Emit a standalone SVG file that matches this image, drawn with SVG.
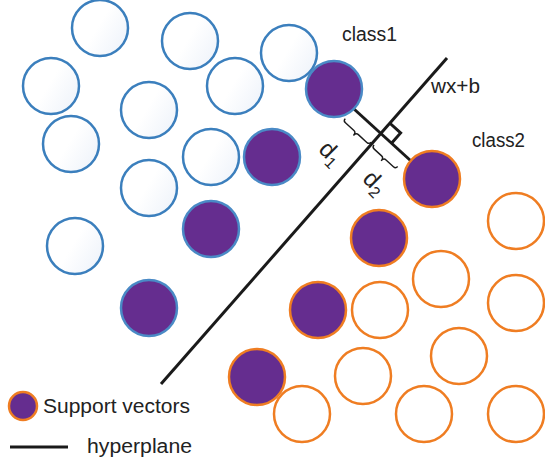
<svg xmlns="http://www.w3.org/2000/svg" width="545" height="466" viewBox="0 0 545 466">
<style>
.b{fill:url(#bg);stroke:#3b7fbd;stroke-width:2.5}
.o{fill:#ffffff;stroke:#ef7d22;stroke-width:2.5}
.pb{fill:#652d8f;stroke:#4a8ac6;stroke-width:2.5}
.po{fill:#652d8f;stroke:#ef7d22;stroke-width:2.5}
.ln{stroke:#1a1a1a;stroke-width:3;fill:none;stroke-linecap:butt}
.br{stroke:#1a1a1a;stroke-width:1.4;fill:none}
.t{font-family:"Liberation Sans",Arial,sans-serif;font-size:20px;fill:#222222}
</style>
<defs>
<linearGradient id="bg" x1="0" y1="0" x2="1" y2="0.6">
<stop offset="0" stop-color="#ffffff"/>
<stop offset="0.55" stop-color="#ffffff"/>
<stop offset="1" stop-color="#f1f5fb"/>
</linearGradient>
</defs>
<g id="connectors">
<line id="hyperplane" class="ln" x1="161" y1="384" x2="447" y2="58"/>
<line id="margin" class="ln" x1="354" y1="109" x2="411" y2="161"/>
<polyline id="right-angle" class="ln" stroke-width="2.5" points="390.2,123.5 400.6,132.9 391.3,143.4"/>
<g transform="translate(354,109) rotate(42.4)">
<path class="br" d="M0,13 Q0,16 3,16 L14.5,16 Q17.5,16 17.5,20 Q17.5,16 20.5,16 L32,16 Q35,16 35,13"/>
<path class="br" d="M39,13 Q39,16 42,16 L52,16 Q55,16 55,20 Q55,16 58,16 L68,16 Q71,16 71,13"/>
</g>
</g>
<g id="class1">
<circle class="b" cx="100" cy="28" r="28"/>
<circle class="b" cx="190" cy="41" r="28"/>
<circle class="b" cx="289" cy="53" r="28"/>
<circle class="b" cx="51" cy="86" r="28"/>
<circle class="b" cx="235" cy="86" r="28"/>
<circle class="b" cx="149" cy="110" r="28"/>
<circle class="b" cx="71" cy="144" r="28"/>
<circle class="b" cx="211" cy="157" r="28"/>
<circle class="b" cx="149" cy="188" r="28"/>
<circle class="b" cx="75" cy="246" r="28"/>
<circle class="pb" cx="334" cy="89" r="28"/>
<circle class="pb" cx="272" cy="157" r="28"/>
<circle class="pb" cx="211" cy="229" r="28"/>
<circle class="pb" cx="149" cy="308" r="28"/>
</g>
<g id="class2">
<circle class="po" cx="432" cy="179" r="28"/>
<circle class="po" cx="379" cy="238" r="28"/>
<circle class="po" cx="318" cy="310" r="28"/>
<circle class="po" cx="257" cy="377" r="28"/>
<circle class="o" cx="516" cy="221" r="28"/>
<circle class="o" cx="441" cy="279" r="28"/>
<circle class="o" cx="380" cy="310" r="28"/>
<circle class="o" cx="516" cy="303" r="28"/>
<circle class="o" cx="459" cy="356" r="28"/>
<circle class="o" cx="363" cy="376" r="28"/>
<circle class="o" cx="302" cy="414" r="28"/>
<circle class="o" cx="424" cy="414" r="28"/>
<circle class="o" cx="516" cy="414" r="28"/>
</g>
<g id="labels">
<text class="t" x="342" y="41" textLength="55" lengthAdjust="spacingAndGlyphs">class1</text>
<text class="t" x="431" y="93" textLength="49" lengthAdjust="spacingAndGlyphs">wx+b</text>
<text class="t" x="472" y="147" textLength="53" lengthAdjust="spacingAndGlyphs">class2</text>
<text class="t" style="font-size:24px" transform="translate(317.5,150.5) rotate(45)">d<tspan style="font-size:16px" dy="5">1</tspan></text>
<text class="t" style="font-size:24px" transform="translate(361.5,180) rotate(45)">d<tspan style="font-size:16px" dy="5">2</tspan></text>
</g>
<g id="legend">
<circle class="po" cx="23" cy="406" r="14"/>
<text class="t" x="43" y="413" textLength="147" lengthAdjust="spacingAndGlyphs">Support vectors</text>
<line class="ln" x1="10" y1="447" x2="68" y2="447"/>
<text class="t" x="87" y="453" textLength="105" lengthAdjust="spacingAndGlyphs">hyperplane</text>
</g>
</svg>
